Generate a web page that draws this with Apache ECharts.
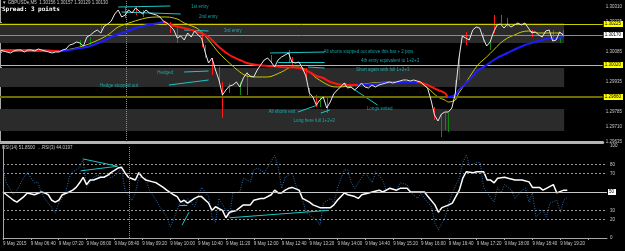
<!DOCTYPE html>
<html>
<head>
<meta charset="utf-8">
<script src="https://cdn.jsdelivr.net/npm/echarts@6/dist/echarts.min.js"></script>
<style>
html, body { margin: 0; padding: 0; background: #000; }
#chart { width: 625px; height: 251px; }
</style>
</head>
<body>
<div id="chart"></div>
<script>
// GBPUSDe M5, 9 May 2015 - one close per 5 minute bar, first bar 06:00
var closes = [
  1.30095, 1.30090, 1.30085, 1.30080, 1.30090, 1.30095, 1.30095, 1.30085, 1.30095, 1.30095,
  1.30090, 1.30100, 1.30095, 1.30090, 1.30085, 1.30080, 1.30085, 1.30085, 1.30095, 1.30100,
  1.30120, 1.30125, 1.30135, 1.30130, 1.30115, 1.30160, 1.30170, 1.30185, 1.30195, 1.30180,
  1.30215, 1.30225, 1.30240, 1.30275, 1.30295, 1.30260, 1.30270, 1.30295, 1.30280, 1.30305,
  1.30290, 1.30275, 1.30295, 1.30280, 1.30275, 1.30270, 1.30260, 1.30240, 1.30230, 1.30215,
  1.30195, 1.30155, 1.30165, 1.30145, 1.30180, 1.30160, 1.30190, 1.30170, 1.30155, 1.30085,
  1.30030, 1.30055, 1.29995, 1.29945, 1.29870, 1.29895, 1.29915, 1.29920, 1.29935, 1.29910,
  1.29955, 1.29980, 1.29965, 1.29960, 1.29995, 1.30020, 1.30045, 1.30055, 1.30035, 1.30010,
  1.30045, 1.30060, 1.30070, 1.30080, 1.30035, 1.30030, 1.30035, 1.30005, 1.29965, 1.29880,
  1.29860, 1.29820, 1.29845, 1.29860, 1.29805, 1.29835, 1.29875, 1.29895, 1.29910, 1.29930,
  1.29905, 1.29910, 1.29895, 1.29910, 1.29930, 1.29910, 1.29905, 1.29920, 1.29910, 1.29920,
  1.29925, 1.29930, 1.29935, 1.29930, 1.29935, 1.29940, 1.29945, 1.29945, 1.29940, 1.29945,
  1.29940, 1.29935, 1.29920, 1.29905, 1.29845, 1.29770, 1.29740, 1.29775, 1.29785, 1.29785,
  1.29805, 1.29880, 1.30050, 1.30165, 1.30155, 1.30145, 1.30195, 1.30210, 1.30205, 1.30155,
  1.30115, 1.30135, 1.30185, 1.30220, 1.30225, 1.30205, 1.30225, 1.30210, 1.30220, 1.30230,
  1.30220, 1.30230, 1.30205, 1.30180, 1.30185, 1.30170, 1.30160, 1.30190, 1.30195, 1.30140,
  1.30145, 1.30185, 1.30170
];

// [bar, price] - slope coloured moving average
var maFast = [
  [0, 1.30095], [6, 1.30095], [11, 1.30095], [17, 1.30090], [20, 1.30095], [23, 1.30105],
  [25, 1.30110], [29, 1.30135], [32, 1.30160], [36, 1.30185], [40, 1.30210], [44, 1.30225],
  [46, 1.30230], [47, 1.30235], [49, 1.30220], [53, 1.30205], [57, 1.30185], [60, 1.30160],
  [63, 1.30110], [66, 1.30070], [69, 1.30045], [71, 1.30030], [74, 1.30020], [77, 1.30015],
  [81, 1.30010], [86, 1.30005], [89, 1.29985], [91, 1.29965], [93, 1.29955], [95, 1.29935],
  [99, 1.29920], [103, 1.29920], [107, 1.29925], [111, 1.29930], [117, 1.29935], [120, 1.29935],
  [123, 1.29920], [126, 1.29895], [128, 1.29880], [129, 1.29860], [131, 1.29870], [132, 1.29895],
  [135, 1.29945], [137, 1.29985], [140, 1.30020], [143, 1.30055], [146, 1.30080], [149, 1.30105],
  [151, 1.30120], [154, 1.30135], [157, 1.30150], [160, 1.30155], [162, 1.30160]
];

// [bar, price] - yellow moving average
var maSlow = [
  [0, 1.30090], [6, 1.30090], [11, 1.30090], [17, 1.30090], [19, 1.30095], [23, 1.30110],
  [27, 1.30135], [31, 1.30170], [34, 1.30210], [38, 1.30235], [42, 1.30255], [45, 1.30260],
  [48, 1.30260], [51, 1.30250], [53, 1.30230], [57, 1.30200], [60, 1.30145], [63, 1.30080],
  [66, 1.30030], [69, 1.29985], [71, 1.29965], [74, 1.29960], [77, 1.29960], [81, 1.29985],
  [84, 1.30010], [86, 1.30010], [89, 1.29985], [91, 1.29955], [95, 1.29915], [97, 1.29910],
  [103, 1.29920], [107, 1.29930], [114, 1.29935], [120, 1.29935], [123, 1.29905], [126, 1.29860],
  [128, 1.29845], [129, 1.29835], [131, 1.29845], [132, 1.29880], [134, 1.29930], [136, 1.29985],
  [138, 1.30030], [140, 1.30060], [142, 1.30095], [144, 1.30130], [146, 1.30155], [148, 1.30170],
  [150, 1.30185], [152, 1.30190], [155, 1.30180], [158, 1.30180], [161, 1.30180], [162, 1.30175]
];

// [bar, high, low]
var downWicks = [
  [36, 1.30310, 1.30255], [39, 1.30315, 1.30270], [41, 1.30295, 1.30260], [49, 1.30235, 1.30180],
  [51, 1.30205, 1.30130], [58, 1.30180, 1.30110], [59, 1.30120, 1.30055], [61, 1.30055, 1.29970],
  [63, 1.30010, 1.29935], [64, 1.29935, 1.29755], [71, 1.29985, 1.29870], [78, 1.30070, 1.30030],
  [83, 1.30095, 1.30035], [84, 1.30060, 1.30020], [88, 1.30005, 1.29945], [89, 1.29905, 1.29855],
  [91, 1.29870, 1.29810], [94, 1.29860, 1.29780], [125, 1.29810, 1.29745], [134, 1.30185, 1.30120],
  [139, 1.30180, 1.30135], [142, 1.30270, 1.30180], [144, 1.30270, 1.30220], [146, 1.30255, 1.30210],
  [153, 1.30195, 1.30160], [159, 1.30195, 1.30145], [162, 1.30195, 1.30160]
];
var upWicks = [
  [23, 1.30145, 1.30110], [26, 1.30160, 1.30120], [29, 1.30220, 1.30180], [66, 1.29930, 1.29880],
  [69, 1.29935, 1.29870], [92, 1.29855, 1.29810], [127, 1.29775, 1.29660], [128, 1.29780, 1.29695],
  [129, 1.29780, 1.29685], [131, 1.29945, 1.29845], [132, 1.30070, 1.29945], [141, 1.30145, 1.30095],
  [161, 1.30160, 1.30130]
];

// [fromBar, toBar, low, high] - shaded zones
var zones = [
  [0, 162.3, 1.30130, 1.30230],
  [0, 162.3, 1.29910, 1.30005],
  [0, 162.3, 1.29690, 1.29800]
];
var levels = [1.30225, 1.30020];
var levelsDim = [1.29860];
var cursorBar = 36.3;

// hand drawn trend lines: [[bar, price], [bar, price]]
var priceLines = [
  [[34, 1.30310], [49, 1.30315]],
  [[35, 1.30285], [52, 1.30275]],
  [[53, 1.30195], [60, 1.30190]],
  [[53, 1.29985], [60, 1.29990]],
  [[48.6, 1.29920], [60, 1.29945]],
  [[77.7, 1.30080], [93.4, 1.30085]],
  [[80, 1.30035], [93.4, 1.30035]],
  [[88.6, 1.30010], [93.4, 1.30005]],
  [[85.7, 1.29785], [91.4, 1.29820]],
  [[92.3, 1.29780], [94.9, 1.29795]],
  [[99.1, 1.29930], [108.6, 1.29820]]
];

// [bar, price, text]
var notes = [
  [54.9, 1.30310, '1st entry'],
  [57.1, 1.30260, '2nd entry'],
  [64.3, 1.30190, '3rd entry'],
  [92.9, 1.30085, 'All shorts stopped out above this bar + 2 pips'],
  [103.7, 1.30040, '4th entry equivalent to 1+2+3'],
  [102.3, 1.29995, 'Short again with full 1+2+3'],
  [45.1, 1.29980, 'Hedged'],
  [28.6, 1.29915, 'Hedge stopped out'],
  [77.1, 1.29785, 'All shorts exit'],
  [84.3, 1.29740, 'Long here full 1+2+3'],
  [105.4, 1.29800, 'Longs exited']
];

// [bar, value]
var rsiSlow = [
  [0, 50], [1, 47], [3, 41], [4, 39], [6, 45], [7, 49], [9, 47], [11, 50], [12, 49], [13, 47],
  [14, 41], [15, 39], [16, 41], [17, 47], [19, 50], [20, 52], [21, 55], [22, 60], [23, 66], [24, 58],
  [25, 63], [26, 63], [28, 66], [29, 66], [30, 68], [31, 71], [33, 76], [34, 77], [35, 71], [36, 66],
  [38, 63], [39, 71], [40, 66], [41, 63], [43, 61], [44, 60], [46, 55], [47, 52], [49, 47], [50, 45],
  [51, 39], [52, 41], [53, 38], [55, 43], [56, 45], [57, 45], [59, 38], [60, 30], [61, 34], [63, 30],
  [64, 22], [65, 28], [67, 30], [68, 33], [69, 36], [71, 36], [72, 41], [74, 43], [75, 43], [77, 47],
  [78, 52], [79, 49], [80, 49], [81, 52], [82, 54], [83, 55], [85, 52], [86, 43], [88, 39], [89, 36],
  [91, 33], [93, 33], [94, 33], [95, 36], [96, 41], [98, 49], [99, 47], [101, 45], [102, 43], [103, 47],
  [105, 49], [106, 50], [108, 52], [109, 50], [111, 54], [113, 52], [114, 54], [116, 54], [117, 50], [119, 50],
  [121, 50], [122, 45], [124, 36], [125, 28], [126, 33], [128, 36], [129, 38], [131, 52], [132, 65], [133, 72],
  [135, 71], [136, 72], [138, 72], [139, 63], [140, 63], [141, 60], [142, 65], [144, 66], [145, 65], [147, 63],
  [148, 63], [149, 63], [151, 61], [152, 55], [154, 55], [155, 52], [156, 54], [158, 58], [159, 49], [161, 52],
  [162, 52]
];
var rsiFast = [
  [0, 74], [1, 60], [3, 47], [4, 52], [6, 66], [7, 71], [9, 60], [10, 61], [11, 49], [12, 43],
  [14, 33], [15, 27], [16, 38], [18, 49], [19, 66], [20, 72], [21, 74], [22, 77], [23, 85], [24, 55],
  [26, 66], [27, 68], [29, 66], [30, 71], [31, 65], [33, 71], [34, 77], [35, 52], [37, 41], [38, 49],
  [39, 66], [41, 65], [42, 52], [44, 41], [45, 34], [47, 23], [48, 12], [49, 20], [51, 41], [52, 36],
  [53, 43], [55, 34], [56, 45], [57, 55], [59, 45], [60, 23], [61, 17], [62, 43], [64, 30], [65, 22],
  [66, 49], [68, 50], [69, 65], [71, 61], [72, 74], [73, 76], [75, 71], [76, 77], [78, 90], [79, 77],
  [80, 54], [81, 66], [83, 71], [84, 58], [86, 41], [87, 28], [89, 22], [90, 20], [91, 14], [92, 38],
  [94, 43], [95, 38], [96, 54], [98, 74], [99, 74], [100, 60], [101, 54], [103, 66], [104, 71], [106, 60],
  [107, 72], [109, 63], [110, 52], [111, 55], [113, 52], [114, 60], [116, 58], [117, 50], [119, 43], [120, 49],
  [121, 43], [123, 34], [124, 16], [125, 9], [127, 23], [128, 38], [129, 49], [131, 65], [132, 82], [133, 90],
  [134, 79], [136, 82], [137, 82], [138, 55], [139, 49], [141, 39], [142, 55], [143, 49], [144, 58], [146, 52],
  [147, 43], [149, 52], [150, 54], [151, 39], [152, 49], [153, 23], [155, 30], [156, 23], [157, 38], [159, 41],
  [160, 28], [161, 41], [162, 44]
];
var rsiLevels = [80, 70, 30, 20];
var rsiLabels = [0, 20, 30, 70, 80, 100];
var rsiLines = [
  [[22.9, 86], [32.9, 78]],
  [[22.3, 73], [32.9, 78]],
  [[50.6, 36], [52.9, 36]],
  [[51.4, 14], [53.4, 28]],
  [[65.1, 22], [93.4, 30]]
];

var headerText = '\u25BC GBPUSDe,M5  1.30156 1.30157 1.30129 1.30130';
var spreadText = 'Spread: 3 points';
var rsiText = 'RSI(14) 51.8500  \u2026RSI(3) 44.0197';

var CYAN = '#1cc6c6';
var AXIS = '#a8a8a8';
var FONT = 'Liberation Sans';

function pad(n) { return (n < 10 ? '0' : '') + n; }
function barLabel(k) {
  if (k > closes.length - 1) return '';
  if (k === 0) return '9 May 2015';
  var m = 360 + k * 5;
  return '9 May ' + pad(Math.floor(m / 60)) + ':' + pad(m % 60);
}

// blue while the average rises, red while it falls
var maPieces = [];
var rising = false;
for (var i = 0; i < maFast.length - 1; i++) {
  var d = maFast[i + 1][1] - maFast[i][1];
  if (d > 0) rising = true; else if (d < 0) rising = false;
  var c = rising ? '#1c1cff' : '#ff1414';
  var last = maPieces[maPieces.length - 1];
  if (last && last.color === c) last.lt = maFast[i + 1][0];
  else maPieces.push({ gte: maFast[i][0], lt: maFast[i + 1][0], color: c });
}
maPieces[maPieces.length - 1].lt += 1;

function wickItem(color) {
  return function (params, api) {
    var top = api.coord([api.value(0), api.value(1)]);
    var bot = api.coord([api.value(0), api.value(2)]);
    var x = Math.round(top[0]) + 0.5;
    return {
      type: 'line',
      shape: { x1: x, y1: top[1], x2: x, y2: bot[1] },
      style: { stroke: color, lineWidth: 1 }
    };
  };
}

function segLines(list) {
  return list.map(function (s) {
    return [{ coord: s[0] }, { coord: s[1] }];
  });
}

function boxLabel(bg, text) {
  return {
    show: true, position: 'end', distance: 1,
    backgroundColor: bg, color: '#000', fontSize: 4.5, fontFamily: FONT,
    padding: [1, 2, 0, 1],
    formatter: text
  };
}

function xMax() { return 173.4; }

// horizontal price levels and the bid line
var levelMarks = [];
levels.forEach(function (v) {
  levelMarks.push([
    { coord: [0, v], lineStyle: { color: '#cccc00', width: 1 }, label: boxLabel('#ffff00', v.toFixed(5)) },
    { coord: [xMax(), v] }
  ]);
});
levelsDim.forEach(function (v) {
  levelMarks.push([
    { coord: [0, v], lineStyle: { color: '#6e6e00', width: 2 }, label: boxLabel('#ffff00', v.toFixed(5)) },
    { coord: [xMax(), v] }
  ]);
});
var bid = closes[closes.length - 1];
levelMarks.push([
  { coord: [0, bid], lineStyle: { color: '#8c8c8c', width: 1 }, label: boxLabel('#ffffff', bid.toFixed(5)) },
  { coord: [xMax(), bid] }
]);

var priceMarks = [];
priceMarks.push({ xAxis: cursorBar, lineStyle: { color: '#8c8c8c', width: 1, type: 'dotted' }, label: { show: false } });
segLines(priceLines).forEach(function (s) { priceMarks.push(s); });

var rsiMarks = [];
rsiLevels.forEach(function (v) {
  rsiMarks.push({ yAxis: v, lineStyle: { color: '#9a9a9a', width: 1, type: [2, 2] }, label: { show: false } });
});
rsiMarks.push({ yAxis: 50, lineStyle: { color: '#c8c8c8', width: 1, type: 'solid' },
  label: boxLabel('#ffffff', '50') });
rsiMarks.push({ xAxis: cursorBar, lineStyle: { color: '#8c8c8c', width: 1, type: 'dotted' }, label: { show: false } });
segLines(rsiLines).forEach(function (s) { rsiMarks.push(s); });

var xCommon = {
  type: 'value', min: 0, max: xMax(), interval: 8,
  splitLine: { show: false }
};

var option = {
  backgroundColor: '#000',
  animation: false,
  textStyle: { fontFamily: FONT },
  grid: [
    { left: 0, top: 0, width: 607, height: 142 },
    { left: 0, top: 146, width: 607, height: 92 }
  ],
  xAxis: [
    Object.assign({}, xCommon, {
      gridIndex: 0,
      axisLine: { show: true, onZero: false, lineStyle: { color: '#b4b4b4', width: 3 } },
      axisTick: { show: false },
      axisLabel: { show: false }
    }),
    Object.assign({}, xCommon, {
      gridIndex: 1,
      axisLine: { show: true, onZero: false, lineStyle: { color: AXIS, width: 1 } },
      axisTick: { show: true, length: 2, lineStyle: { color: AXIS } },
      axisLabel: {
        show: true, align: 'left', margin: 3, fontSize: 4.5, color: '#c8c8c8',
        showMaxLabel: false, formatter: barLabel
      }
    })
  ],
  yAxis: [
    {
      gridIndex: 0, type: 'value', position: 'right',
      min: 1.29635, max: 1.30345, interval: 0.00075,
      axisLine: { show: true, lineStyle: { color: AXIS } },
      axisTick: { show: true, length: 2, lineStyle: { color: AXIS } },
      splitLine: { show: false },
      axisLabel: {
        color: '#c8c8c8', fontSize: 4.5, margin: 3, showMaxLabel: false,
        formatter: function (v) { return v.toFixed(5); }
      }
    },
    {
      gridIndex: 1, type: 'value', position: 'right',
      min: 0, max: 100, interval: 10,
      axisLine: { show: true, lineStyle: { color: AXIS } },
      axisTick: { show: false },
      splitLine: { show: false },
      axisLabel: {
        color: '#c8c8c8', fontSize: 4.5, margin: 3,
        formatter: function (v) { return rsiLabels.indexOf(v) >= 0 ? String(v) : ''; }
      }
    }
  ],
  visualMap: [{
    type: 'piecewise', show: false, seriesIndex: 4, dimension: 0, pieces: maPieces
  }],
  graphic: [
    { type: 'text', x: 2, y: 0, style: { text: headerText, fill: '#c8c8c8', font: '4.5px "Liberation Sans", "DejaVu Sans"' } },
    { type: 'text', x: 2, y: 6, style: { text: spreadText, fill: '#ffffff', font: 'bold 6px "DejaVu Sans Mono"' } },
    { type: 'text', x: 2, y: 145, style: { text: rsiText, fill: '#c8c8c8', font: '4.5px "Liberation Sans", "DejaVu Sans"' } }
  ],
  series: [
    {
      name: 'zones', type: 'line', xAxisIndex: 0, yAxisIndex: 0, z: 1, silent: true,
      data: closes.map(function (v, k) { return [k, v]; }),
      lineStyle: { opacity: 0 }, showSymbol: false,
      markArea: {
        silent: true,
        itemStyle: { color: '#2b2b2b' },
        data: zones.map(function (z) {
          return [{ xAxis: z[0], yAxis: z[2] }, { xAxis: z[1], yAxis: z[3] }];
        })
      }
    },
    {
      name: 'down', type: 'custom', xAxisIndex: 0, yAxisIndex: 0, z: 3, silent: true,
      renderItem: wickItem('#ff1a1a'), encode: { x: 0, y: [1, 2] }, data: downWicks
    },
    {
      name: 'up', type: 'custom', xAxisIndex: 0, yAxisIndex: 0, z: 3, silent: true,
      renderItem: wickItem('#0f8a0f'), encode: { x: 0, y: [1, 2] }, data: upWicks
    },
    {
      name: 'MA slow', type: 'line', xAxisIndex: 0, yAxisIndex: 0, z: 4, silent: true,
      data: maSlow, showSymbol: false, smooth: 0.3,
      lineStyle: { color: '#c8c800', width: 1 }
    },
    {
      name: 'MA fast', type: 'line', xAxisIndex: 0, yAxisIndex: 0, z: 5, silent: true,
      data: maFast, showSymbol: false, smooth: 0.3,
      lineStyle: { width: 2 }
    },
    {
      name: 'close', type: 'line', xAxisIndex: 0, yAxisIndex: 0, z: 6, silent: true,
      data: closes.map(function (v, k) { return [k, v]; }), showSymbol: false,
      lineStyle: { color: '#e8e8e8', width: 1 },
      markLine: {
        silent: true, symbol: ['none', 'none'], animation: false,
        lineStyle: { color: CYAN, width: 1, type: 'solid' },
        label: { show: false },
        data: priceMarks.concat(levelMarks)
      }
    },
    {
      name: 'notes', type: 'scatter', xAxisIndex: 0, yAxisIndex: 0, z: 7, silent: true,
      symbolSize: 1, itemStyle: { color: 'rgba(0,0,0,0)' },
      data: notes.map(function (n) { return { name: n[2], value: [n[0], n[1]] }; }),
      label: {
        show: true, position: 'right', distance: 0, formatter: '{b}',
        color: CYAN, fontSize: 4.5, fontFamily: FONT
      }
    },
    {
      name: 'RSI(3)', type: 'line', xAxisIndex: 1, yAxisIndex: 1, z: 3, silent: true,
      data: rsiFast, showSymbol: false,
      lineStyle: { color: '#2c6fb4', width: 1, type: [1, 1.5] }
    },
    {
      name: 'RSI(14)', type: 'line', xAxisIndex: 1, yAxisIndex: 1, z: 4, silent: true,
      data: rsiSlow, showSymbol: false,
      lineStyle: { color: '#ffffff', width: 1.5 },
      markLine: {
        silent: true, symbol: ['none', 'none'], animation: false,
        lineStyle: { color: CYAN, width: 1, type: 'solid' },
        label: { show: false },
        data: rsiMarks
      }
    }
  ]
};

var chart = echarts.init(document.getElementById('chart'));
chart.setOption(option);
</script>
</body>
</html>
